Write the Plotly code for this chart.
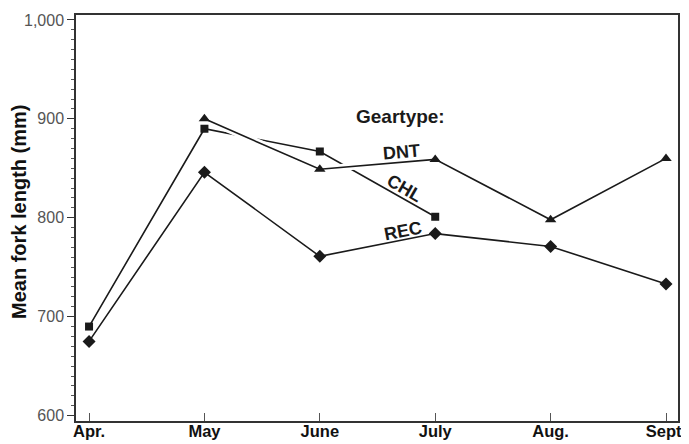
import plotly.graph_objects as go

months = ["Apr.", "May", "June", "July", "Aug.", "Sept."]
dnt = [None, 900, 849, 859, 798, 860]
chl = [690, 890, 867, 801, None, None]
rec = [675, 846, 761, 784, 771, 733]

label_font = "Liberation Sans, Arial, sans-serif"
ink = "#1a1a1a"

fig = go.Figure()

# CHL line (drawn underneath; broken where DNT crosses it)
fig.add_trace(go.Scatter(x=months, y=chl, mode="lines",
                         line=dict(color=ink, width=1.6), showlegend=False, hoverinfo="skip"))
# REC
fig.add_trace(go.Scatter(x=months, y=rec, mode="lines+markers",
                         line=dict(color=ink, width=1.6),
                         marker=dict(symbol="diamond", size=10, color=ink),
                         showlegend=False))
# white casing for DNT
fig.add_trace(go.Scatter(x=months, y=dnt, mode="lines",
                         line=dict(color="white", width=7), showlegend=False, hoverinfo="skip"))
# DNT
fig.add_trace(go.Scatter(x=months, y=dnt, mode="lines+markers",
                         line=dict(color=ink, width=1.6),
                         marker=dict(symbol="triangle-up", size=10, color=ink),
                         showlegend=False))
# CHL markers on top
fig.add_trace(go.Scatter(x=months, y=chl, mode="markers",
                         marker=dict(symbol="square", size=8, color=ink),
                         showlegend=False))

annots = [
    dict(text="<b>Geartype:</b>", x=2.70, y=902, textangle=0, size=19),
    dict(text="<b>DNT</b>", x=2.71, y=866, textangle=-5, size=18),
    dict(text="<b>CHL</b>", x=2.73, y=830, textangle=30, size=18),
    dict(text="<b>REC</b>", x=2.72, y=787, textangle=-11, size=18),
]
for a in annots:
    fig.add_annotation(text=a["text"], x=a["x"], y=a["y"], xref="x", yref="y",
                       showarrow=False, textangle=a["textangle"],
                       font=dict(family=label_font, size=a["size"], color=ink))

# y-axis title as an annotation so the plot area stays fixed
fig.add_annotation(text="<b>Mean fork length (mm)</b>", xref="paper", yref="paper",
                   x=0, y=0.5, xanchor="center", yanchor="middle", xshift=-57, yshift=6,
                   textangle=-90, showarrow=False,
                   font=dict(family=label_font, size=20, color="#111"))

fig.update_xaxes(
    type="category", categoryorder="array", categoryarray=months,
    range=[-0.113, 5.104], automargin=False,
    showline=True, linecolor="#333", linewidth=1.5, mirror=True,
    ticks="inside", ticklen=8, tickcolor="#555", tickwidth=1,
    ticklabelstandoff=-6, ticklabeloverflow="allow",
    tickfont=dict(family=label_font, size=16.5, color="#111", weight="bold"),
    showgrid=False, zeroline=False,
)
fig.update_yaxes(
    range=[594.5, 1005], automargin=False,
    tickvals=[600, 700, 800, 900, 1000], tickformat=",",
    showline=True, linecolor="#333", linewidth=1.5, mirror=True,
    ticks="outside", ticklen=7, tickcolor="#333", tickwidth=1,
    minor=dict(dtick=10, ticks="outside", ticklen=3, tickcolor="#555", tickwidth=1),
    tickfont=dict(family=label_font, size=16, color="#555"),
    showgrid=False, zeroline=False,
)

# page body adds an 8px offset, so size/margins are reduced accordingly
fig.update_layout(
    width=681, height=436,
    margin=dict(l=68, r=11, t=7, b=23),
    plot_bgcolor="white", paper_bgcolor="white",
    showlegend=False,
)

fig.write_html("out.html")
